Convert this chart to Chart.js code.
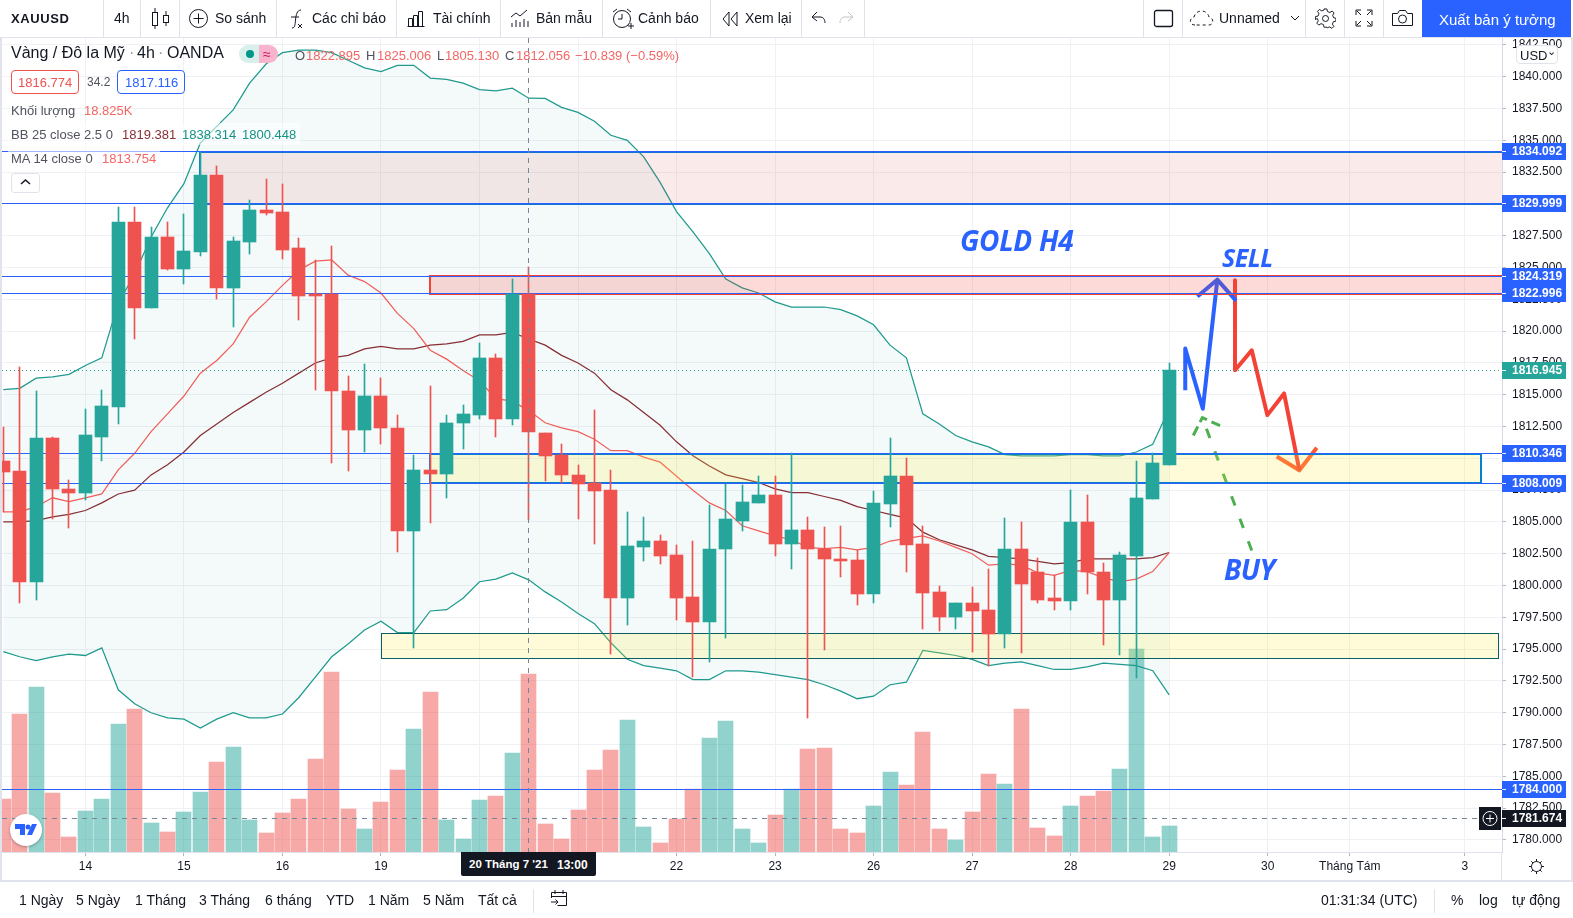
<!DOCTYPE html>
<html lang="vi">
<head>
<meta charset="utf-8">
<title>XAUUSD 4h</title>
<script src="https://cdn.jsdelivr.net/npm/chart.js@4/dist/chart.umd.min.js"></script>
<style>
html, body { margin: 0; padding: 0; background: #fff; overflow: hidden; }
#page { position: relative; width: 1573px; height: 918px; font-family: "Liberation Sans", Arial, sans-serif; color: #131722; overflow: hidden; }
#chart { position: absolute; left: 0; top: 0; }
.t { position: absolute; white-space: nowrap; line-height: 1; transform: translateY(-50%); font-size: 14px; }
.box { position: absolute; box-sizing: border-box; }
.sep { position: absolute; background: #e0e3eb; width: 1px; }
svg { position: absolute; fill: none; stroke: #131722; stroke-width: 1; }
</style>
</head>
<body>
<div id="page">
  <canvas id="chart" width="1573" height="918"></canvas>
  <div class="box" style="left:0;top:0;width:2px;height:918px;background:#e0e3eb"></div>
  <div class="box" style="left:1571px;top:0;width:2px;height:918px;background:#e0e3eb"></div>
  <div class="box" style="left:0;top:0;width:1573px;height:38px;background:#fff;border-bottom:1px solid #e0e3eb"></div>
  <div class="box" style="left:0;top:880px;width:1573px;height:38px;background:#fff;border-top:2px solid #e0e3eb"></div>
  <div class="box" style="left:1501px;top:852px;width:1px;height:28px;background:#e0e3eb"></div>
  <div class="box" style="left:1422px;top:0;width:149px;height:37px;background:#2962ff"></div>

  <!-- legend backgrounds -->
  <div class="box" style="left:8px;top:123px;width:292px;height:22px;background:rgba(255,255,255,.55)"></div>
  <div class="box" style="left:8px;top:147px;width:152px;height:22px;background:rgba(255,255,255,.55)"></div>
  <div class="box" style="left:239px;top:45px;width:20px;height:18px;background:#d8efec;border-radius:9px 0 0 9px"></div>
  <div class="box" style="left:259px;top:45px;width:19px;height:18px;background:#f8b3cd;border-radius:0 9px 9px 0"></div>
  <div class="box" style="left:246px;top:50px;width:8px;height:8px;background:#009688;border-radius:50%"></div>
  <div class="box" style="left:11px;top:70px;width:68px;height:24px;border:1px solid #ef5350;border-radius:4px;background:#fff"></div>
  <div class="box" style="left:117px;top:70px;width:68px;height:24px;border:1px solid #2962ff;border-radius:4px;background:#fff"></div>
  <div class="box" style="left:11px;top:173px;width:29px;height:20px;border:1px solid #e0e3eb;border-radius:3px;background:#fff"></div>
  <div class="box" style="left:1516px;top:45px;width:42px;height:19px;border:1px solid #e0e3eb;border-radius:4px;background:#fff"></div>

  <!-- toolbar icons -->
  <svg style="left:150px;top:6px" width="22" height="24"><path d="M5 2v4M5 20v3M16 5v4M16 17v3"/><rect x="2.5" y="6.5" width="5" height="13"/><rect x="13.5" y="9.5" width="5" height="7"/></svg>
  <svg style="left:188px;top:8px" width="22" height="22"><circle cx="10.5" cy="10.5" r="9"/><path d="M10.5 5.5v10M5.5 10.5h10"/></svg>
  <svg style="left:288px;top:7px" width="18" height="24"><path d="M4 21c3 0 3-3 3.5-8S9 3 13 3"/><path d="M3 10h8M10 17l4 4M14 17l-4 4"/></svg>
  <svg style="left:406px;top:9px" width="20" height="19"><path d="M1.5 17.5h17M2.5 17.5v-8h4v8M7.500 17.500v-11h4v11M12.500 17.500v-15h4v15"/></svg>
  <svg style="left:510px;top:8px" width="20" height="20"><path d="M1 9l5-4 4 3 7-6M2 19v-4M6 19v-7M10 19v-5M14 19v-8M18 19v-6"/></svg>
  <svg style="left:611px;top:7px" width="24" height="24"><circle cx="11" cy="12" r="8.500"/><path d="M11 7v5H7M2 5l4-3M16 2l4 3M17 19h6M20 16v6"/></svg>
  <svg style="left:722px;top:11px" width="16" height="16"><path d="M7 1L1 8l6 7zM15 1L9 8l6 7z"/></svg>
  <svg style="left:811px;top:11px" width="15" height="14"><path d="M6 1L1 6l5 4M1 6h8c3 0 5 2 5 6"/></svg>
  <svg style="left:839px;top:11px;stroke:#c1c4cd" width="15" height="14"><path d="M9 1l5 5-5 4M14 6H6c-3 0-5 2-5 6"/></svg>
  <svg style="left:1153px;top:9px;stroke-width:1.300" width="21" height="20"><rect x="1.500" y="1.500" width="18" height="16" rx="2"/></svg>
  <svg style="left:1189px;top:9px;stroke-dasharray:3 3" width="26" height="18"><path d="M6 16c-6 0-6-7-1-8 2-8 13-8 15 0 5 1 5 8 0 8z"/></svg>
  <svg style="left:1290px;top:15px" width="10" height="7"><path d="M1 1l4 4 4-4"/></svg>
  <svg style="left:1315px;top:8px" width="21" height="21"><circle cx="10.500" cy="10.500" r="3"/><path d="M9 1h3l.6 2.700 2.500 1 2.400-1.500 2 2-1.500 2.400 1 2.500 2.400.6v3l-2.700.6-1 2.500 1.500 2.400-2 2-2.400-1.500-2.500 1L12 20H9l-.6-2.700-2.500-1-2.400 1.500-2-2 1.500-2.400-1-2.500L0 12V9l2.700-.6 1-2.500L2.200 3.500l2-2 2.400 1.500 2.500-1z" transform="translate(.4 0) scale(.96)"/></svg>
  <svg style="left:1355px;top:9px" width="18" height="18"><path d="M1 6V1h5M12 1h5v5M17 12v5h-5M6 17H1v-5M2 2l4 4M16 2l-4 4M16 16l-4-4M2 16l4-4"/></svg>
  <svg style="left:1391px;top:9px" width="23" height="18"><path d="M1.500 4.500h5l2-3h6l2 3h5v12h-20z"/><circle cx="11.500" cy="10" r="4"/></svg>
  <svg style="left:20px;top:178px;stroke-width:1.500" width="11" height="8"><path d="M1 6l4.500-4L10 6"/></svg>
  <svg style="left:550px;top:889px" width="18" height="18"><path d="M1.500 9V3.500h15v13h-9M1.500 7.500h15M5 1v4M13 1v4M1 13h7M5.500 10.500L8 13l-2.500 2.500"/></svg>
  <svg style="left:1528px;top:858px" width="17" height="17"><circle cx="8.500" cy="8.500" r="5"/><path d="M8.500 1v2.500M8.500 13.500V16M1 8.500h2.500M13.500 8.500H16M3.300 3.300L5 5M12 12l1.700 1.700M13.700 3.300L12 5M5 12l-1.700 1.700"/></svg>

  <!-- logo -->
  <div class="box" style="left:10px;top:814px;width:32px;height:32px;border-radius:50%;background:#fff;box-shadow:0 1px 3px rgba(0,0,0,.3)"></div>
  <svg style="left:14px;top:822px;fill:#2962ff;stroke:none" width="24" height="16"><path d="M1 2h10v11H6V7H1z"/><circle cx="14" cy="5" r="2.500"/><path d="M18 2h5l-5 11h-5z"/></svg>

  <div class="box" style="left:461px;top:852px;width:135px;height:24px;background:#131722;border-radius:0 0 2px 2px"></div>
</div>

<script>
// bar numbers, one bar = 4h
const opens = [1809.8, 1809.0, 1800.3, 1811.6, 1807.6, 1807.3, 1811.7, 1814.0, 1828.6, 1821.8, 1827.4, 1824.9, 1826.2, 1832.3, 1823.4, 1827.0, 1829.5, 1829.4,
    1826.5, 1822.9, 1822.9, 1815.3, 1812.2, 1814.9, 1812.4, 1804.3, 1809.1, 1808.8, 1812.8, 1813.4, 1817.9, 1813.1, 1822.895, 1812.0, 1810.3, 1808.7,
    1808.1, 1807.5, 1799.0, 1803.0, 1803.5, 1802.4, 1799.1, 1797.1, 1802.9, 1805.1, 1806.5, 1807.1, 1803.3, 1804.4, 1802.9, 1802.1, 1802.0, 1799.3,
    1806.4, 1808.6, 1803.3, 1799.5, 1797.5, 1798.6, 1798.1, 1796.2, 1802.9, 1801.1, 1799.0, 1798.8, 1805.0, 1801.1, 1798.9, 1802.3, 1806.8, 1809.5];
const highs = [1812.5, 1817.2, 1815.3, 1811.7, 1808.3, 1813.9, 1815.4, 1829.8, 1829.8, 1828.2, 1828.6, 1829.2, 1834.1, 1833.0, 1827.4, 1830.3, 1832.0, 1831.6,
    1827.3, 1825.6, 1826.7, 1816.5, 1817.4, 1816.3, 1813.4, 1810.3, 1815.7, 1813.4, 1814.2, 1819.1, 1818.2, 1824.1, 1825.006, 1812.0, 1811.1, 1809.5,
    1813.8, 1809.1, 1805.8, 1805.4, 1804.0, 1803.2, 1803.5, 1806.3, 1808.0, 1807.9, 1808.6, 1808.6, 1810.4, 1805.4, 1804.6, 1804.7, 1802.8, 1807.4,
    1811.6, 1810.0, 1804.7, 1800.0, 1798.6, 1799.9, 1801.3, 1805.3, 1805.0, 1802.2, 1800.8, 1807.5, 1807.1, 1801.8, 1802.6, 1809.8, 1810.4, 1817.5];
const lows = [1805.8, 1798.6, 1798.9, 1805.2, 1804.5, 1806.7, 1809.8, 1812.7, 1819.4, 1821.8, 1824.8, 1823.7, 1825.9, 1822.5, 1820.3, 1826.1, 1829.1, 1825.7,
    1820.9, 1815.4, 1809.6, 1809.0, 1810.5, 1811.1, 1802.6, 1795.1, 1804.9, 1806.9, 1810.7, 1813.1, 1811.7, 1812.6, 1805.13, 1808.2, 1808.1, 1805.2,
    1803.3, 1794.6, 1796.9, 1801.9, 1801.7, 1797.3, 1792.8, 1794.0, 1795.9, 1804.3, 1806.5, 1802.3, 1801.3, 1789.6, 1794.9, 1800.7, 1798.5, 1798.6,
    1804.6, 1801.1, 1796.6, 1796.4, 1796.6, 1794.8, 1793.7, 1795.1, 1794.7, 1798.6, 1798.1, 1798.1, 1799.3, 1795.3, 1794.5, 1792.7, 1806.8, 1809.5];
const closes = [1808.9, 1800.3, 1811.6, 1807.6, 1807.3, 1811.8, 1814.1, 1828.6, 1821.8, 1827.4, 1824.9, 1826.3, 1832.3, 1823.4, 1827.1, 1829.5, 1829.3, 1826.4,
    1822.8, 1822.8, 1815.3, 1812.2, 1814.9, 1812.4, 1804.3, 1809.1, 1808.8, 1812.8, 1813.5, 1817.9, 1813.1, 1822.9, 1812.056, 1810.2, 1808.7, 1808.0,
    1807.4, 1799.0, 1803.1, 1803.5, 1802.3, 1799.0, 1797.1, 1802.9, 1805.2, 1806.6, 1807.1, 1803.3, 1804.4, 1802.9, 1802.1, 1801.9, 1799.3, 1806.5,
    1808.6, 1803.2, 1799.4, 1797.5, 1798.6, 1798.0, 1796.2, 1802.9, 1800.1, 1798.9, 1798.8, 1805.0, 1801.1, 1798.9, 1802.4, 1806.9, 1809.6, 1816.945];
// volume in thousands
const volumes = [5.6, 14.6, 17.4, 6.2, 1.6, 4.3, 5.6, 13.5, 15.1, 3.1, 2.1, 4.2, 6.3, 9.5, 11.1, 3.4, 2.0, 4.1, 5.6, 9.8, 19.0, 4.5, 2.4, 5.3,
    8.7, 13.0, 16.9, 3.4, 1.4, 5.5, 5.9, 10.5, 18.825, 3.0, 1.4, 4.4, 8.7, 10.8, 14.0, 2.6, 1.0, 3.5, 6.7, 12.1, 13.9, 2.4, 1.0, 3.9,
    6.7, 10.9, 11.0, 2.4, 2.0, 4.9, 8.5, 7.1, 12.7, 2.4, 1.3, 4.2, 8.3, 7.2, 15.1, 2.5, 1.7, 4.9, 5.9, 6.5, 8.8, 21.5, 1.6, 2.8];
const bbUpper = [1815.4, 1815.5, 1816.3, 1816.4, 1816.6, 1817.3, 1817.9, 1822.2, 1824.5, 1827.4, 1829.7, 1831.6, 1834.8, 1836.1, 1837.4, 1839.5, 1841.0, 1841.9,
    1842.1, 1842.1, 1841.9, 1841.3, 1840.7, 1840.4, 1840.9, 1840.9, 1839.9, 1839.8, 1839.5, 1839.0, 1838.9, 1839.1, 1838.314, 1838.3, 1837.6, 1837.2,
    1836.5, 1835.4, 1835.0, 1833.7, 1831.7, 1829.4, 1827.8, 1826.1, 1824.1, 1823.4, 1823.0, 1822.3, 1821.9, 1821.9, 1821.9, 1821.7, 1821.2, 1820.5,
    1818.9, 1817.9, 1813.5, 1812.7, 1811.8, 1811.3, 1810.9, 1810.3, 1810.2, 1810.2, 1810.2, 1810.3, 1810.3, 1810.2, 1810.2, 1810.5, 1811.1, 1813.9];
const bbBasis = [1805.0, 1805.0, 1805.1, 1805.4, 1805.6, 1805.9, 1806.5, 1807.2, 1807.5, 1808.7, 1809.5, 1810.5, 1811.8, 1812.7, 1813.6, 1814.4, 1815.2, 1815.9,
    1816.7, 1817.5, 1817.9, 1818.1, 1818.6, 1818.8, 1818.6, 1818.6, 1818.9, 1819.0, 1819.2, 1819.7, 1819.7, 1819.9, 1819.381, 1818.9, 1818.1, 1817.5,
    1816.7, 1815.4, 1814.6, 1813.6, 1812.6, 1811.3, 1810.2, 1809.4, 1808.7, 1808.4, 1808.1, 1807.6, 1807.3, 1807.3, 1807.0, 1806.7, 1806.2, 1805.9,
    1805.6, 1805.3, 1804.2, 1803.6, 1803.2, 1802.8, 1802.3, 1802.2, 1802.1, 1801.9, 1801.7, 1801.8, 1802.1, 1802.1, 1802.1, 1802.1, 1802.2, 1802.6];
const bbLower = [1794.8, 1794.4, 1794.1, 1794.4, 1794.6, 1794.5, 1795.1, 1791.8, 1790.7, 1790.0, 1789.6, 1789.5, 1788.8, 1789.5, 1790.0, 1789.6, 1789.6, 1789.9,
    1791.2, 1792.8, 1794.4, 1795.4, 1796.5, 1797.2, 1796.3, 1796.3, 1798.0, 1798.1, 1799.0, 1800.3, 1800.5, 1801.0, 1800.448, 1799.5, 1798.7, 1797.8,
    1797.0, 1795.5, 1794.2, 1793.7, 1793.5, 1793.3, 1792.6, 1792.6, 1793.3, 1793.3, 1793.2, 1793.0, 1792.8, 1792.6, 1792.2, 1791.7, 1791.1, 1791.3,
    1792.2, 1792.4, 1794.9, 1794.7, 1794.5, 1794.2, 1793.7, 1793.9, 1794.0, 1793.7, 1793.4, 1793.4, 1793.6, 1793.9, 1793.8, 1793.7, 1793.3, 1791.4];
const ma14 = [1805.8, 1805.8, 1806.2, 1806.9, 1806.6, 1806.9, 1807.2, 1809.1, 1810.4, 1812.1, 1813.5, 1814.9, 1816.7, 1817.7, 1819.0, 1821.1, 1822.3, 1823.6,
    1824.8, 1825.5, 1825.6, 1824.4, 1823.9, 1823.0, 1821.4, 1820.2, 1818.5, 1817.8, 1816.9, 1816.1, 1814.7, 1814.5, 1813.754, 1812.8, 1812.4, 1812.1,
    1811.5, 1810.6, 1810.6, 1810.1, 1809.7, 1808.6, 1807.5, 1806.5, 1805.9, 1804.7, 1804.3, 1803.9, 1803.6, 1803.0, 1802.9, 1803.0, 1802.8, 1803.0,
    1803.5, 1803.7, 1803.9, 1803.5, 1803.0, 1802.5, 1801.6, 1801.7, 1801.6, 1801.0, 1800.8, 1801.2, 1801.1, 1800.6, 1800.3, 1800.5, 1801.1, 1802.6];

// axes
const priceTicks = [1842.5, 1840, 1837.5, 1835, 1832.5, 1830, 1827.5, 1825, 1822.5, 1820, 1817.5, 1815, 1812.5, 1810, 1807.5, 1805, 1802.5, 1800,
    1797.5, 1795, 1792.5, 1790, 1787.5, 1785, 1782.5, 1780];
const dayTickBars = [5, 11, 17, 23, 29, 35, 41, 47, 53, 59, 65, 71, 77, 82, 89];
const dayTickLabels = ['14', '15', '16', '19', '20', '21', '22', '23', '26', '27', '28', '29', '30', 'Tháng Tám', '3'];

// drawings on the chart
const levelPrices = [1834.092, 1829.999, 1824.319, 1822.996, 1810.346, 1808.009, 1784];
const lastPrice = 1816.945;
const crossPrice = 1781.674;
const crossBar = 32;
const buyArrow = [[76.03, 1802.75], [73.02, 1813.2]];
const buyHead = [[72.47, 1811.8], [73.02, 1813.2], [74.1, 1812.57]];
const upPath = [[71.98, 1815.35], [71.98, 1818.63], [73.05, 1813.9], [73.93, 1824.0]];
const upHead = [[72.72, 1822.73], [73.93, 1824.05], [75.07, 1822.4]];
const downPath = [[75.01, 1824.0], [75.01, 1816.92], [76.03, 1818.5], [76.98, 1813.4], [78.0, 1815.1], [78.93, 1809.06]];
const downHead = [[77.55, 1810.15], [78.93, 1809.06], [79.99, 1810.84]];

const UP = '#26a69a', DOWN = '#ef5350', BLUE = '#2962ff', BAND = 'rgba(38,166,154,0.05)';
const bars = opens.map((o, i) => i);
const isUp = i => closes[i] >= opens[i];
const xy = list => list.map(p => ({ x: p[0], y: p[1] }));
const series = list => list.map((v, i) => ({ x: i, y: v }));

function pathSet(list, color, width, dash) {
    return {
        type: 'line', data: xy(list), borderColor: color, borderWidth: width, borderDash: dash || [], borderJoinStyle: 'round',
        pointRadius: 0, fill: false, order: 3, tension: 0
    };
}

function rectZone(chart, fromBar, toBar, top, bottom, fill, stroke, lineWidth) {
    const { ctx, scales } = chart;
    const nudge = lineWidth % 2 ? 0.5 : 0;
    const x1 = Math.round(scales.x.getPixelForValue(fromBar)) + nudge;
    const x2 = Math.round(scales.x.getPixelForValue(toBar)) + nudge;
    const y1 = Math.round(scales.y.getPixelForValue(top)) + nudge;
    const y2 = Math.round(scales.y.getPixelForValue(bottom)) + nudge;
    ctx.fillStyle = fill;
    ctx.fillRect(x1, y1, x2 - x1, y2 - y1);
    ctx.strokeStyle = stroke;
    ctx.lineWidth = lineWidth;
    ctx.strokeRect(x1, y1, x2 - x1, y2 - y1);
}

function drawZones(chart) {
    const { ctx, scales, chartArea } = chart;
    ctx.save();
    ctx.beginPath();
    ctx.rect(chartArea.left, chartArea.top, chartArea.width, chartArea.height);
    ctx.clip();
    rectZone(chart, 12, 95, 1834.092, 1829.999, 'rgba(211,47,47,0.1)', '#1272d8', 2);
    rectZone(chart, 26, 95, 1824.31, 1822.92, 'rgba(244,67,54,0.2)', '#f44336', 2);
    rectZone(chart, 26, 90, 1810.346, 1808.05, 'rgba(255,235,59,0.2)', '#0a7fd0', 2);
    rectZone(chart, 23, 91, 1796.25, 1794.3, 'rgba(255,235,59,0.2)', '#0b5f61', 1);

    ctx.lineWidth = 1;
    ctx.strokeStyle = BLUE;
    levelPrices.forEach(p => {
        const y = Math.floor(scales.y.getPixelForValue(p)) + 0.5;
        ctx.beginPath();
        ctx.moveTo(chartArea.left, y);
        ctx.lineTo(chartArea.right, y);
        ctx.stroke();
    });

    const lastY = Math.round(scales.y.getPixelForValue(lastPrice)) + 0.5;
    ctx.strokeStyle = UP;
    ctx.setLineDash([1, 3]);
    ctx.beginPath();
    ctx.moveTo(chartArea.left, lastY);
    ctx.lineTo(chartArea.right, lastY);
    ctx.stroke();
    ctx.restore();
}

const tvPlugin = {
    id: 'tvDrawings',
    beforeDatasetDraw(chart, args) {
        if (args.meta.type === 'bar') {
            // bars sit on whole pixels, wicks stay 1px
            args.meta.data.forEach(b => {
                b.x = Math.round(b.x - 0.5) + 0.5;
                b.y = Math.round(b.y);
                b.base = Math.round(b.base);
            });
        }
        if (chart.data.datasets[args.index].label === 'wicks') {
            drawZones(chart);
        }
    },
    afterDraw(chart) {
        const { ctx, scales, chartArea } = chart;
        ctx.save();
        // crosshair
        ctx.strokeStyle = '#758696';
        ctx.lineWidth = 1;
        ctx.setLineDash([5, 5]);
        const cx = Math.round(scales.x.getPixelForValue(crossBar) - 0.5) + 0.5;
        const cy = Math.floor(scales.y.getPixelForValue(crossPrice)) + 0.5;
        ctx.beginPath();
        ctx.moveTo(cx, chartArea.top);
        ctx.lineTo(cx, chartArea.bottom);
        ctx.moveTo(chartArea.left, cy);
        ctx.lineTo(chartArea.right, cy);
        ctx.stroke();
        ctx.setLineDash([]);

        // price tags
        ctx.font = 'bold 12px "Liberation Sans"';
        ctx.textBaseline = 'middle';
        const tags = levelPrices.map(p => [p, BLUE]).concat([[lastPrice, UP], [crossPrice, '#131722']]);
        tags.forEach(([p, color]) => {
            const y = Math.floor(scales.y.getPixelForValue(p));
            ctx.fillStyle = color;
            ctx.fillRect(chartArea.right, y - 8, 64, 17);
            ctx.fillStyle = '#fff';
            ctx.fillRect(chartArea.right, y, 4, 1);
            ctx.fillText(p.toFixed(3), chartArea.right + 10, y + 1);
        });

        // plus button next to the crosshair price
        ctx.fillStyle = '#131722';
        ctx.fillRect(chartArea.right - 23, cy - 11.5, 22, 23);
        ctx.strokeStyle = '#fff';
        ctx.beginPath();
        ctx.arc(chartArea.right - 12, cy, 7, 0, Math.PI * 2);
        ctx.moveTo(chartArea.right - 16, cy);
        ctx.lineTo(chartArea.right - 8, cy);
        ctx.moveTo(chartArea.right - 12, cy - 4);
        ctx.lineTo(chartArea.right - 12, cy + 4);
        ctx.stroke();
        ctx.restore();
    }
};

new Chart(document.getElementById('chart').getContext('2d'), {
    type: 'bar',
    plugins: [tvPlugin],
    data: {
        datasets: [
            pathSet(upPath, BLUE, 4), pathSet(upHead, BLUE, 4),
            pathSet(downPath, '#f44336', 4), pathSet(downHead, '#ff5a36', 4),
            pathSet(buyArrow, '#4caf50', 3, [10, 14]), pathSet(buyHead, '#4caf50', 3, [10, 5]),
            {
                label: 'wicks', data: bars.map(i => ({ x: i, y: [lows[i], highs[i]] })),
                backgroundColor: bars.map(i => isUp(i) ? UP : DOWN), barThickness: 1, grouped: false, order: 2
            },
            {
                label: 'candles', data: bars.map(i => ({ x: i, y: [opens[i], closes[i]] })),
                backgroundColor: bars.map(i => isUp(i) ? UP : DOWN), barThickness: 13, minBarLength: 1, grouped: false, order: 1
            },
            { type: 'line', label: 'MA', data: series(ma14), borderColor: '#ef5f5b', borderWidth: 1.25, pointRadius: 0, order: 4, tension: 0, fill: false },
            { type: 'line', label: 'BB basis', data: series(bbBasis), borderColor: '#872f35', borderWidth: 1.25, pointRadius: 0, order: 4, tension: 0, fill: false },
            {
                type: 'line', label: 'BB upper', data: series(bbUpper), borderColor: '#1f9a8d', borderWidth: 1.25, pointRadius: 0, order: 5, tension: 0,
                fill: { target: '+1', above: BAND, below: BAND }
            },
            { type: 'line', label: 'BB lower', data: series(bbLower), borderColor: '#1f9a8d', borderWidth: 1.25, pointRadius: 0, order: 5, tension: 0, fill: false },
            {
                label: 'volume', data: bars.map(i => ({ x: i, y: volumes[i] })), yAxisID: 'vol',
                backgroundColor: bars.map(i => isUp(i) ? 'rgba(38,166,154,0.5)' : 'rgba(239,83,80,0.5)'), barThickness: 15, grouped: false, order: 7
            }
        ]
    },
    options: {
        responsive: false,
        animation: false,
        devicePixelRatio: 1,
        events: [],
        layout: { padding: { top: 38, left: 2, right: 0, bottom: 0 } },
        plugins: { legend: { display: false }, tooltip: { enabled: false } },
        scales: {
            x: {
                type: 'linear',
                offset: false,
                min: -0.079,
                max: 91.27,
                afterFit(scale) { scale.height = 66; },
                afterBuildTicks(scale) { scale.ticks = dayTickBars.map(v => ({ value: v })); },
                grid: { color: '#eff1f5', offset: false, tickLength: 4, tickColor: '#b2b5be' },
                border: { color: '#e0e3eb' },
                ticks: {
                    autoSkip: false, maxRotation: 0, padding: 3, color: '#131722',
                    font: { family: 'Liberation Sans', size: 12 },
                    callback: v => dayTickLabels[dayTickBars.indexOf(v)]
                }
            },
            y: {
                position: 'right',
                min: 1779.05,
                max: 1843.05,
                afterFit(scale) { scale.width = 71; },
                afterBuildTicks(scale) { scale.ticks = priceTicks.map(v => ({ value: v })); },
                grid: { color: '#eff1f5', tickLength: 4, tickColor: '#b2b5be' },
                border: { color: '#d6d9e2' },
                ticks: {
                    padding: 6, color: '#131722',
                    font: { family: 'Liberation Sans', size: 12 },
                    callback: v => v.toFixed(3)
                }
            },
            vol: { display: false, min: 0, max: 86.1 }
        }
    }
});

// everything around the plot is plain html text
const page = document.getElementById('page');
function addText(text, x, y, size, color, extra) {
    const el = document.createElement('div');
    el.className = 't';
    el.textContent = text;
    el.style.left = x + 'px';
    el.style.top = y + 'px';
    if (size) el.style.fontSize = size + 'px';
    if (color) el.style.color = color;
    if (extra) el.style.cssText += extra;
    page.appendChild(el);
}

[103, 140, 179, 276, 396, 500, 602, 710, 801, 864, 1143, 1182, 1305, 1344, 1383].forEach(x => {
    const s = document.createElement('div');
    s.className = 'sep';
    s.style.left = x + 'px';
    s.style.top = '0';
    s.style.height = '37px';
    page.appendChild(s);
});
[[533, 889, 24], [1434, 889, 24]].forEach(([x, top, h]) => {
    const s = document.createElement('div');
    s.className = 'sep';
    s.style.cssText += `left:${x}px;top:${top}px;height:${h}px`;
    page.appendChild(s);
});

addText('XAUUSD', 11, 18, 13, '#131722', 'font-weight:bold;letter-spacing:.6px');
[['4h', 114], ['So sánh', 215], ['Các chỉ báo', 312], ['Tài chính', 433], ['Bản mẫu', 536], ['Cảnh báo', 638], ['Xem lại', 745], ['Unnamed', 1219]]
    .forEach(([t, x]) => addText(t, x, 18));
addText('Xuất bản ý tưởng', 1439, 19, 15, '#fff');

addText('Vàng / Đô la Mỹ', 11, 53, 16, '#131722');
addText('·', 129, 53, 16, '#9598a1');
addText('4h', 137, 53, 16, '#131722');
addText('·', 158, 53, 16, '#9598a1');
addText('OANDA', 167, 53, 16, '#131722');
addText('≈', 263, 54, 14, '#c2185b');
const ohlc = [['O', 295, 0], ['1822.895', 306, 1], ['H', 366, 0], ['1825.006', 377, 1], ['L', 437, 0], ['1805.130', 445, 1], ['C', 505, 0], ['1812.056', 516, 1],
    ['−10.839', 575, 1], ['(−0.59%)', 626, 1]];
ohlc.forEach(([t, x, red]) => addText(t, x, 55, 13, red ? '#f26663' : '#50535e'));
addText('1816.774', 18, 82, 13, '#ef5350');
addText('34.2', 87, 82, 12, '#50535e');
addText('1817.116', 125, 82, 13, '#2962ff');
addText('Khối lượng', 11, 110, 13, '#50535e');
addText('18.825K', 84, 110, 13, '#f26663');
addText('BB 25 close 2.5 0', 11, 134, 13, '#50535e');
addText('1819.381', 122, 134, 13, '#872f35');
addText('1838.314', 182, 134, 13, '#159385');
addText('1800.448', 242, 134, 13, '#159385');
addText('MA 14 close 0', 11, 158, 13, '#50535e');
addText('1813.754', 102, 158, 13, '#f26663');
addText('USD', 1520, 54.5, 13, '#131722');
addText('⌄', 1547, 51, 11, '#131722');

addText('GOLD H4', 960, 240, 28, BLUE, 'font-family:"Open Sans";font-weight:700;font-style:italic;letter-spacing:-.3px');
addText('SELL', 1222, 257, 25, BLUE, 'font-family:"Open Sans";font-weight:700;font-style:italic;letter-spacing:-.5px');
addText('BUY', 1224, 569, 28, BLUE, 'font-family:"Open Sans";font-weight:700;font-style:italic;letter-spacing:-.6px');

addText("20 Tháng 7 '21", 469, 865, 11.5, '#fff', 'font-weight:bold');
addText('13:00', 557, 865, 12, '#fff', 'font-weight:bold');

[['1 Ngày', 19], ['5 Ngày', 76], ['1 Tháng', 135], ['3 Tháng', 199], ['6 tháng', 265], ['YTD', 326], ['1 Năm', 368], ['5 Năm', 423], ['Tất cả', 478]]
    .forEach(([t, x]) => addText(t, x, 900));
[['01:31:34 (UTC)', 1321], ['%', 1451], ['log', 1479], ['tự động', 1512]].forEach(([t, x]) => addText(t, x, 900));
</script>
</body>
</html>
